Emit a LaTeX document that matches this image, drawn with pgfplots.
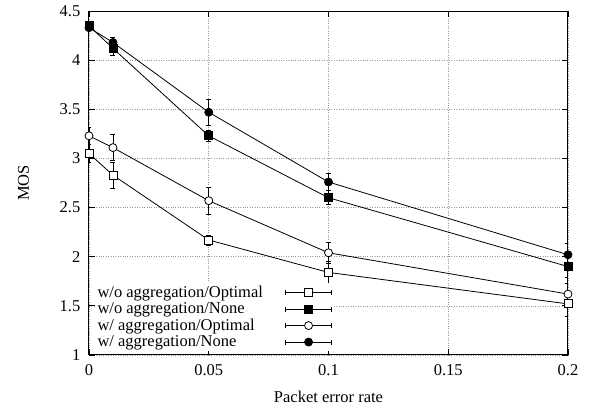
\documentclass[border=0pt]{standalone}
\usepackage{fontspec}
\setmainfont{Liberation Serif}
\usepackage{pgfplots}
\pgfplotsset{compat=1.18}

% legend sample: horizontal bar with end ticks and the mark in the middle
\pgfplotsset{
  ebleg/.style={
    legend image code/.code={
      \path[draw=none, fill=none] (0pt,-3pt) rectangle (68pt,3pt);
      \draw[solid,line width=0.8pt] (22pt,0pt) -- (68pt,0pt);
      \draw[solid,line width=0.8pt] (22pt,-2.5pt) -- (22pt,2.5pt) (68pt,-2.5pt) -- (68pt,2.5pt);
      \draw[##1,only marks] plot coordinates {(45pt,0pt)};
    }
  }
}

\begin{document}
\fontsize{16.5}{19}\selectfont
\begin{tikzpicture}
\path[use as bounding box] (-89pt,-52pt) rectangle (501pt,355pt);
\begin{axis}[
    scale only axis,
    width=479pt,
    height=344pt,
    xmin=0, xmax=0.2,
    ymin=1, ymax=4.5,
    xtick={0,0.05,0.1,0.15,0.2},
    ytick={1,1.5,2,2.5,3,3.5,4,4.5},
    xticklabels={0,0.05,0.1,0.15,0.2},
    yticklabels={1,1.5,2,2.5,3,3.5,4,4.5},
    xticklabel style={yshift=-4pt},
    yticklabel style={xshift=-3pt},
    tick align=inside,
    major tick length=6pt,
    tick style={black, line width=0.8pt},
    axis line style={line width=1pt},
    grid=major,
    grid style={dotted, gray!80, line width=0.7pt},
    xlabel={Packet error rate},
    ylabel={MOS},
    xlabel style={at={(axis description cs:0.5,0)}, anchor=base, yshift=-48pt, inner sep=0pt},
    ylabel style={at={(axis description cs:-0.125,0.5)}, anchor=south, inner sep=0pt},
    legend style={at={(rel axis cs:0.012,0.01)}, anchor=south west, draw=none, fill=white,
      font=\fontsize{16.5}{19}\selectfont, row sep=1.6pt, inner sep=2pt,
      nodes={inner sep=0.6pt}},
    legend cell align=left,
    legend plot pos=right,
    every axis plot/.append style={black, line width=0.8pt, mark size=4pt,
      error bars/y dir=both, error bars/y explicit,
      error bars/error mark options={rotate=90, mark size=2.5pt, line width=0.8pt, solid},
      error bars/error bar style={line width=0.8pt, solid}},
    ebleg,
]
\addplot[mark=square*, mark options={fill=white}] coordinates {
  (0,3.05) +- (0,0.09)
  (0.01,2.83) +- (0,0.13)
  (0.05,2.17) +- (0,0.05)
  (0.1,1.84) +- (0,0.11)
  (0.2,1.52) +- (0,0.13)
};
\addlegendentry{w/o aggregation/Optimal}
\addplot[mark=square*, mark options={fill=black}] coordinates {
  (0,4.35) +- (0,0.03)
  (0.01,4.12) +- (0,0.07)
  (0.05,3.23) +- (0,0.06)
  (0.1,2.60) +- (0,0.07)
  (0.2,1.90) +- (0,0.11)
};
\addlegendentry{w/o aggregation/None}
\addplot[mark=*, mark options={fill=white}] coordinates {
  (0,3.23) +- (0,0.09)
  (0.01,3.11) +- (0,0.13)
  (0.05,2.57) +- (0,0.14)
  (0.1,2.04) +- (0,0.11)
  (0.2,1.62) +- (0,0.11)
};
\addlegendentry{w/ aggregation/Optimal}
\addplot[mark=*, mark options={fill=black}] coordinates {
  (0,4.33) +- (0,0.03)
  (0.01,4.18) +- (0,0.05)
  (0.05,3.47) +- (0,0.13)
  (0.1,2.76) +- (0,0.09)
  (0.2,2.02) +- (0,0.12)
};
\addlegendentry{w/ aggregation/None}
\end{axis}
\end{tikzpicture}
\end{document}
